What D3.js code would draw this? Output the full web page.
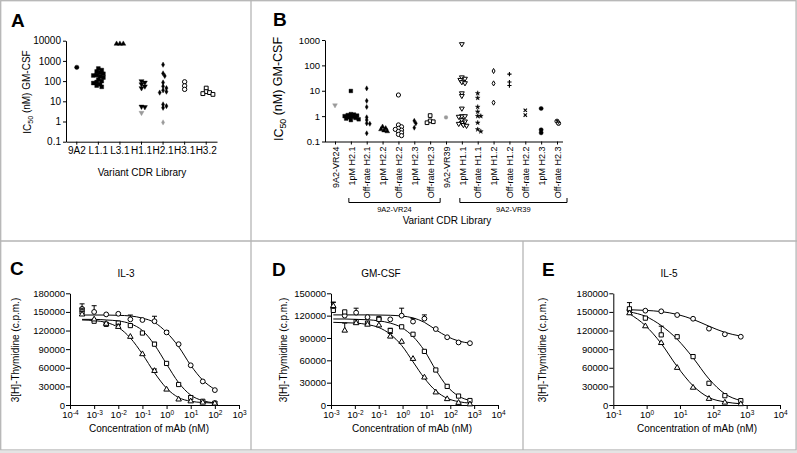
<!DOCTYPE html>
<html><head><meta charset="utf-8">
<script src="https://cdn.jsdelivr.net/npm/d3@7"></script>
<style>body{margin:0;background:#fff} svg{display:block}</style>
</head><body><svg id="c" width="797" height="453"></svg>
<script>
// ================= DATA =================
// Panel A
const aCategories = ["9A2","L1.1","L3.1","H1.1","H2.1","H3.1","H3.2"];
const aValues = [
  [480],
  [420,350,300,260,230,200,190,170,150,120,100,90,80,70,60,52],
  [7000,7000,7000],
  [100,85,70,55,45,5.5,5.2],
  [650,240,180,85,55,45,35,30,27,7,5.8,4.8],
  [92,58,39],
  [45,30,27,24,22]
];
const aReference = [[],[],[],[2.7],[0.9],[],[]];
const aTicks = [0.1,1,10,100,1000,10000];
const aTickLabels = ["0.1","1","10","100","1000","10000"];

// Panel B
const bCategories = ["9A2-VR24","1pM H2.1","Off-rate H2.1","1pM H2.2","Off-rate H2.2","1pM H2.3","Off-rate H2.3",
  "9A2-VR39","1pM H1.1","Off-rate H1.1","1pM H1.2","Off-rate H1.2","Off-rate H2.2","1pM H2.3","Off-rate H2.3"];
const bValues = [
  [],
  [9.8,1.2,1.15,1.1,1.05,1.0,0.95,0.9,0.85,0.8,0.75,0.7],
  [12.4,4,2.3,0.9,0.7,0.52,0.5,0.21],
  [0.38,0.33,0.3,0.27,0.25],
  [6.8,0.45,0.38,0.33,0.3,0.28,0.25,0.22,0.19,0.17],
  [0.65,0.52,0.35],
  [1.05,0.65,0.6,0.55],
  [],
  [690,34,30,27,22,20,8,6.3,2.0,1.0,1.0,0.95,0.7,0.62,0.55,0.5,0.45,0.42],
  [8,5.2,2.3,1.5,1.0,1.0,0.55,0.3,0.25],
  [60,19.5,3.4],
  [45,22,16],
  [1.7,1.1],
  [2.0,0.29,0.22],
  [0.63,0.52]
];
const bReference = [[2.7],[],[],[],[],[],[],[0.9],[],[],[],[],[],[],[]];
const bTicks = [0.1,1,10,100,1000];
const bTickLabels = ["0.1","1","10","100","1000"];
const bGroups = [{label:"9A2-VR24", first:"1pM H2.1", last:6},{label:"9A2-VR39", first:"1pM H1.1", last:14}];

// Panel C (IL-3)
const il3Conc = [0.000316,0.001,0.00316,0.01,0.0316,0.1,0.316,1,3.16,10,31.6,100];
const il3Circle = [155000,150000,146000,147000,138000,137000,135000,117000,98000,64000,38000,24000];
const il3CircleErr = [8000,10000,0,0,7000,0,8000,3000,0,0,0,0];
const il3Square = [150000,135000,130000,132000,128000,116000,98000,67000,33000,12000,6000,3000];
const il3SquareErr = [6000,0,3000,0,0,0,3000,0,0,3000,0,2000];
const il3Triangle = [146000,138000,131000,126000,110000,82000,55000,25000,9000,6000,4000,2500];
const il3TriangleErr = [5000,0,0,4000,0,0,3000,0,0,0,0,0];
const il3CircleFit = [145000,145000,145000,144500,143500,140000,133000,117000,94000,64000,40000,25000];
const il3SquareFit = [138000,138000,137000,135500,131000,120000,97000,66000,36000,16000,7000,3500];
const il3TriangleFit = [137000,136000,133000,125000,108000,82000,52000,27000,12000,6000,4000,3000];
const il3YTicks = [0,30000,60000,90000,120000,150000,180000];
const il3XTicks = [1e-4,1e-3,1e-2,1e-1,1,10,100,1000];

// Panel D (GM-CSF)
const gmConc = [0.00125,0.00376,0.0113,0.0339,0.102,0.305,0.915,2.74,8.23,24.7,74.1,222,667];
const gmCircle = [130000,120000,124000,118000,116000,115000,120000,112000,116000,102000,91000,84000,83000];
const gmCircleErr = [8000,0,6000,0,3000,0,10000,4000,5000,0,0,0,0];
const gmSquare = [127000,125000,112000,110000,115000,100000,105000,95000,72000,47000,25000,12000,6000];
const gmSquareErr = [5000,0,0,0,0,3000,0,0,0,0,0,0,0];
const gmTriangle = [133000,100000,110000,108000,107000,92000,85000,62000,37000,17000,8000,3000,1000];
const gmTriangleErr = [5000,10000,0,0,0,4000,0,0,0,0,0,0,0];
const gmCircleFit = [121000,121000,121000,121000,120800,120500,119500,117000,111000,101000,92000,86000,83000];
const gmSquareFit = [115500,115500,115000,114500,113000,110000,104000,92000,73000,47000,25000,12000,6000];
const gmTriangleFit = [111000,110500,110000,108000,104000,95000,80000,58000,36000,19000,9000,4500,2500];
const gmYTicks = [0,30000,60000,90000,120000,150000];
const gmXTicks = [1e-3,1e-2,1e-1,1,10,100,1000,10000];

// Panel E (IL-5)
const il5Conc = [0.305,0.915,2.74,8.23,24.7,74.1,222,667];
const il5Circle = [153000,152000,151000,145000,139000,123000,114000,110000];
const il5CircleErr = [12000,0,0,0,0,0,0,0];
const il5Square = [155000,140000,113000,110000,78000,35000,15000,7000];
const il5SquareErr = [0,0,14000,0,0,0,0,0];
const il5Triangle = [148000,127000,100000,60000,28000,10000,4000,1500];
const il5TriangleErr = [0,0,0,0,0,0,0,0];
const il5CircleFit = [153500,152500,150500,146000,138000,127000,117000,111000];
const il5SquareFit = [150000,143000,128000,106000,76000,42000,18000,7000];
const il5TriangleFit = [147000,128000,99000,62000,31000,12000,5000,2000];
const il5YTicks = [0,30000,60000,90000,120000,150000,180000];
const il5XTicks = [1e-1,1,10,100,1000,10000];

// ================= DRAWING =================
const FONT = '"Liberation Sans", Arial, Helvetica, sans-serif';
const svg = d3.select('#c').style('font-family', FONT);

// frame
const fr = svg.append('g').attr('fill','none').attr('stroke','#b5b5b5').attr('stroke-width',1.3);
fr.append('rect').attr('x',0.7).attr('y',0.7).attr('width',795.4).attr('height',449.3);
fr.append('line').attr('x1',0).attr('x2',797).attr('y1',241).attr('y2',241);
fr.append('line').attr('x1',251).attr('x2',251).attr('y1',0).attr('y2',450);
fr.append('line').attr('x1',523).attr('x2',523).attr('y1',241).attr('y2',450);
svg.append('rect').attr('x',0).attr('y',450.5).attr('width',797).attr('height',3).attr('fill','#e4e4e4');

// panel letters
[["A",11,27],["B",273,26],["C",10,275],["D",272,276],["E",542,276]].forEach(([t,x,y])=>{
  svg.append('text').attr('x',x).attr('y',y).attr('font-size',19).attr('font-weight','bold').text(t);
});

function styleAxis(g, fs){
  g.attr('font-family',FONT).attr('font-size',fs);
  g.selectAll('path,line').attr('stroke','#000').attr('stroke-width',1);
  g.selectAll('text').attr('fill','#000');
}

function symPath(type, r){
  switch(type){
    case 'circle': return d3.symbol(d3.symbolCircle, Math.PI*r*r)();
    case 'square': return d3.symbol(d3.symbolSquare, (1.75*r)*(1.75*r))();
    case 'tri': return d3.symbol(d3.symbolTriangle, 2.3*r*r)();
    case 'diamond': return d3.symbol(d3.symbolDiamond, 1.7*r*r)();
    case 'star': return d3.symbol(d3.symbolStar, 1.6*r*r)();
    case 'plus': return `M${-r},0H${r}M0,${-r}V${r}`;
    case 'times': {const q=r*0.8; return `M${-q},${-q}L${q},${q}M${-q},${q}L${q},${-q}`;}
    case 'asterisk': {const q=r*0.7; return `M${-r},0H${r}M0,${-r}V${r}M${-q},${-q}L${q},${q}M${-q},${q}L${q},${-q}`;}
  }
}
// style: [shape, mode, rotate]  mode: F filled, O open, S stroke-only
function drawMarker(g, st, x, y, r, color){
  const [shape, mode, rot] = st;
  const p = g.append('path').attr('d', symPath(shape, r))
    .attr('transform', `translate(${x},${y})` + (rot ? ` rotate(${rot})` : ''));
  if(mode==='F') p.attr('fill', color).attr('stroke', color).attr('stroke-width',0.4);
  else if(mode==='O') p.attr('fill','#fff').attr('stroke', color).attr('stroke-width',1);
  else p.attr('fill','none').attr('stroke', color).attr('stroke-width',1.1);
}

// deterministic swarm placement (partial overlap allowed)
function swarm(items, y, cx, d, k){
  const placed=[];
  items.slice().sort((a,b)=>b.v-a.v).forEach(it=>{
    const py=y(it.v);
    const offs=[0]; for(let i=1;i<30;i++){offs.push(i*d*0.4,-i*d*0.4);}
    let px=cx;
    for(const o of offs){
      if(placed.every(p=>(p.x-(cx+o))**2+(p.y-py)**2 >= d*d*k)){px=cx+o;break;}
    }
    placed.push({...it,x:px,y:py});
  });
  return placed;
}

function icLabel(g, x, y, fs){
  const t=g.append('text').attr('transform',`translate(${x},${y}) rotate(-90)`).attr('text-anchor','middle').attr('font-size',fs);
  t.append('tspan').text('IC');
  t.append('tspan').attr('font-size',fs*0.7).attr('dy','0.3em').text('50');
  t.append('tspan').attr('dy','-0.3em').text(' (nM) GM-CSF');
}

// ---------- Panel A ----------
{
  const g = svg.append('g');
  const x = d3.scaleBand().domain(aCategories).range([66,217]);
  const y = d3.scaleLog().domain([0.1,10000]).range([141.7,40.7]);
  const ya = g.append('g').attr('transform','translate(66,0)')
    .call(d3.axisLeft(y).tickValues(aTicks).tickFormat((d,i)=>aTickLabels[i]).tickSize(3).tickPadding(2).tickSizeOuter(0));
  styleAxis(ya, 10);
  const xa = g.append('g').attr('transform','translate(0,141.7)')
    .call(d3.axisBottom(x).tickSize(3).tickPadding(2).tickSizeOuter(0));
  styleAxis(xa, 10);
  const aStyles = [['circle','F'],['square','F'],['tri','F'],['tri','F',180],['diamond','F'],['circle','O'],['square','O']];
  aCategories.forEach((c,i)=>{
    const items = aValues[i].map(v=>({v,ref:false})).concat(aReference[i].map(v=>({v,ref:true})));
    const pts = swarm(items, y, x(c)+x.bandwidth()/2, 4.2, 0.5);
    pts.forEach(p=>drawMarker(g, aStyles[i], p.x, p.y, 2.2, p.ref?'#9a9a9a':'#000'));
  });
  icLabel(g, 31, 92, 10);
  g.append('text').attr('x',142).attr('y',175.5).attr('text-anchor','middle').attr('font-size',10).text('Variant CDR Library');
}

// ---------- Panel B ----------
{
  const g = svg.append('g');
  const axisX = 325;
  const x = d3.scalePoint().domain(d3.range(bCategories.length)).range([335,557]);
  const y = d3.scaleLog().domain([0.1,1000]).range([141.5,40]);
  const ya = g.append('g').attr('transform',`translate(${axisX},0)`)
    .call(d3.axisLeft(y).tickValues(bTicks).tickFormat((d,i)=>bTickLabels[i]).tickSize(3).tickPadding(2).tickSizeOuter(0));
  styleAxis(ya, 9.5);
  const xa = g.append('g').attr('transform','translate(0,141.5)')
    .call(d3.axisBottom(x).tickSize(3).tickSizeOuter(0).tickFormat(i=>bCategories[i]));
  xa.select('.domain').attr('d', `M${axisX},0.5H${x.range()[1]+6}`);
  xa.selectAll('.tick text').attr('text-anchor','end').attr('transform','translate(0,5) rotate(-90)')
    .attr('x',0).attr('y',0).attr('dy','0.35em');
  styleAxis(xa, 9);
  const bStyles = [['tri','F',180],['square','F'],['diamond','F'],['tri','F'],['circle','O'],['diamond','F'],['square','O'],
    ['asterisk','S'],['tri','O',180],['star','F'],['diamond','O'],['plus','S'],['times','S'],['circle','F'],['circle','O']];
  bCategories.forEach((c,i)=>{
    const items = bValues[i].map(v=>({v,ref:false})).concat(bReference[i].map(v=>({v,ref:true})));
    const pts = swarm(items, y, x(i), 3.9, 0.45);
    pts.forEach(p=>{
      const col = p.ref?'#9a9a9a':'#000';
      const st = p.ref && i===0 ? ['tri','F',180] : bStyles[i];
      drawMarker(g, st, p.x, p.y, 2.1, col);
      if(i===14) drawMarker(g, ['times','S'], p.x, p.y, 1.4, col);
    });
  });
  icLabel(g, 283, 89, 12.5);
  // brackets
  bGroups.forEach(gr=>{
    const i0 = bCategories.indexOf(gr.first);
    const x1 = x(i0)-2, x2 = x(gr.last)+10;
    g.append('path').attr('d',`M${x1},198V202.5H${x2}V198`).attr('fill','none').attr('stroke','#000').attr('stroke-width',1);
    g.append('text').attr('x',(x1+x2)/2).attr('y',212).attr('text-anchor','middle').attr('font-size',7.5).text(gr.label);
  });
  g.append('text').attr('x',447).attr('y',224).attr('text-anchor','middle').attr('font-size',10).text('Variant CDR Library');
}

// ---------- Dose-response panels ----------
function dosePanel(o){
  const g = svg.append('g');
  const x = d3.scaleLog().domain(o.xDomain).range(o.xRange);
  const y = d3.scaleLinear().domain([0,o.yMax]).range([405,293.3]);
  const ya = g.append('g').attr('transform',`translate(${o.xRange[0]},0)`)
    .call(d3.axisLeft(y).tickValues(o.yTicks).tickFormat(d3.format('d')).tickSize(4).tickPadding(1).tickSizeOuter(0));
  styleAxis(ya, 9.5);
  const xa = g.append('g').attr('transform','translate(0,405)')
    .call(d3.axisBottom(x).tickValues(o.xTicks).tickSize(4).tickPadding(2).tickSizeOuter(0));
  xa.selectAll('.tick text').each(function(d){
    const e = Math.round(Math.log10(d));
    const t = d3.select(this); t.text(null);
    t.append('tspan').text('10');
    t.append('tspan').attr('dy','-0.45em').attr('font-size','6.5px').text(e);
  });
  styleAxis(xa, 9.5);
  const shapes = {circle:['circle','O'], square:['square','O'], tri:['tri','O']};
  o.series.forEach(s=>{
    const line = d3.line().x((d,i)=>x(o.conc[i])).y(d=>y(d)).curve(d3.curveMonotoneX);
    g.append('path').attr('d', line(s.fit)).attr('fill','none').attr('stroke','#000').attr('stroke-width',1);
  });
  o.series.forEach(s=>{
    s.values.forEach((v,i)=>{
      const e = s.err[i];
      if(e>0){
        const cx = x(o.conc[i]);
        g.append('path').attr('d',`M${cx},${y(v)}V${y(v+e)}M${cx-2.5},${y(v+e)}H${cx+2.5}`)
          .attr('stroke','#000').attr('stroke-width',1).attr('fill','none');
      }
    });
    s.values.forEach((v,i)=>drawMarker(g, shapes[s.shape], x(o.conc[i]), y(v), 2.4, '#000'));
  });
  g.append('text').attr('x',o.titleX).attr('y',276.5).attr('text-anchor','middle').attr('font-size',10).text(o.title);
  g.append('text').attr('x',o.xTitleX).attr('y',431.5).attr('text-anchor','middle').attr('font-size',10).text('Concentration of mAb (nM)');
  g.append('text').attr('transform',`translate(${o.yLabelX},350) rotate(-90)`).attr('text-anchor','middle')
    .attr('font-size',10).text('3[H]-Thymidine (c.p.m.)');
}

dosePanel({title:'IL-3', titleX:126, xTitleX:149, yLabelX:18.5, xDomain:[1e-4,1e3], xRange:[70,239], yMax:180000,
  yTicks:il3YTicks, xTicks:il3XTicks, conc:il3Conc,
  series:[
    {shape:'circle', values:il3Circle, err:il3CircleErr, fit:il3CircleFit},
    {shape:'square', values:il3Square, err:il3SquareErr, fit:il3SquareFit},
    {shape:'tri', values:il3Triangle, err:il3TriangleErr, fit:il3TriangleFit}]});
dosePanel({title:'GM-CSF', titleX:381, xTitleX:412, yLabelX:286.5, xDomain:[1e-3,1e4], xRange:[331,498], yMax:150000,
  yTicks:gmYTicks, xTicks:gmXTicks, conc:gmConc,
  series:[
    {shape:'circle', values:gmCircle, err:gmCircleErr, fit:gmCircleFit},
    {shape:'square', values:gmSquare, err:gmSquareErr, fit:gmSquareFit},
    {shape:'tri', values:gmTriangle, err:gmTriangleErr, fit:gmTriangleFit}]});
dosePanel({title:'IL-5', titleX:669, xTitleX:697, yLabelX:545.5, xDomain:[1e-1,1e4], xRange:[613.3,780], yMax:180000,
  yTicks:il5YTicks, xTicks:il5XTicks, conc:il5Conc,
  series:[
    {shape:'circle', values:il5Circle, err:il5CircleErr, fit:il5CircleFit},
    {shape:'square', values:il5Square, err:il5SquareErr, fit:il5SquareFit},
    {shape:'tri', values:il5Triangle, err:il5TriangleErr, fit:il5TriangleFit}]});
</script></body></html>
